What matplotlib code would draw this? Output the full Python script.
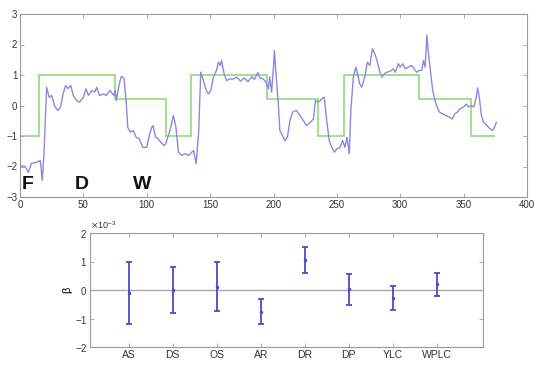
import numpy as np
import matplotlib
matplotlib.use("Agg")
import matplotlib.pyplot as plt
from matplotlib.ticker import ScalarFormatter

# ---------------- data ----------------
trace_x = [0.5, 4, 6.6, 9, 13, 16, 17.6, 19, 21, 23, 25, 27.6, 30, 32, 34, 36, 38, 40, 42, 44.7,
           47, 50, 52, 54, 56.6, 59, 60.5, 62.6, 66, 68, 71, 74, 75, 76, 77.6, 79, 80, 82, 83.7, 85,
           87, 89.5, 91.6, 94, 96.8, 100, 102, 104, 105, 107, 109, 111, 113.7, 115, 117, 119, 121, 123,
           125, 127.6, 130, 133, 135.5, 137, 139, 141, 142.6, 144.7, 147, 148.7, 150.5, 152.6, 155,
           156.6, 158, 159, 161, 163, 165.8, 168.4, 171, 174, 177, 180, 183, 185, 187.6, 189.3, 192,
           194, 196, 197, 198.5, 200, 200.7, 202, 203.8, 205, 207, 209, 211, 213, 215, 218, 221, 223.5,
           226, 229, 231.5, 233, 235, 237, 238, 240, 242, 244, 246, 248, 250, 252.5, 254.6, 256.4, 258,
           259.8, 261, 263, 265, 266, 268, 269.6, 272, 274, 276, 278, 280, 282, 284, 285.6, 287.5,
           289.3, 292, 294.5, 296, 298.5, 300, 302, 304, 306.4, 309, 311, 313, 315, 317, 318.3, 319.6,
           321, 322, 323.5, 325.6, 327.5, 329, 331, 333.5, 336, 338.7, 341, 343, 345, 347, 350, 352,
           354, 355.7, 358, 360, 361, 362.4, 364, 365.7, 368.3, 371, 373, 375, 375.8]
trace_y = [-1.97, -2.0, -2.19, -1.9, -1.86, -1.8, -2.45, -1.5, 0.6, 0.27, 0.33, -0.05, -0.16, -0.05,
           0.38, 0.66, 0.55, 0.66, 0.33, 0.16, 0.11, 0.27, 0.55, 0.33, 0.49, 0.44, 0.6, 0.33, 0.38,
           0.33, 0.49, 0.33, 0.49, 0.16, 0.55, 0.82, 0.95, 0.9, 0.16, -0.71, -0.87, -0.82, -1.04, -1.09,
           -1.37, -1.37, -0.98, -0.71, -0.66, -1.04, -1.09, -1.2, -1.31, -1.26, -0.98, -0.71, -0.33,
           -0.71, -1.53, -1.64, -1.58, -1.64, -1.53, -1.48, -1.91, -0.82, 1.09, 0.82, 0.49, 0.38, 0.49,
           0.93, 1.15, 1.42, 1.31, 1.48, 1.04, 0.82, 0.87, 0.87, 0.93, 0.8, 0.9, 0.78, 0.95, 0.85, 1.08,
           0.9, 0.87, 0.77, 0.55, 0.93, 0.44, 1.26, 1.8, 1.04, 0.05, -0.82, -0.98, -1.15, -1.04, -0.49,
           -0.22, -0.16, -0.33, -0.49, -0.66, -0.55, -0.44, 0.16, 0.11, 0.16, 0.22, 0.27, -0.49, -1.15,
           -1.37, -1.53, -1.42, -1.37, -1.15, -1.37, -1.04, -1.58, -0.16, 0.93, 1.26, 1.09, 0.71, 0.6,
           0.93, 1.42, 1.31, 1.86, 1.69, 1.42, 1.09, 0.93, 1.04, 1.09, 1.12, 1.2, 1.09, 1.37, 1.26,
           1.37, 1.2, 1.26, 1.31, 1.2, 1.09, 1.15, 1.15, 1.48, 1.26, 2.3, 1.8, 1.26, 0.49, 0.16, -0.05,
           -0.22, -0.27, -0.33, -0.38, -0.44, -0.27, -0.22, -0.11, -0.05, 0.05, -0.05, 0.0, -0.05, 0.27,
           0.58, 0.27, -0.33, -0.55, -0.66, -0.77, -0.82, -0.66, -0.55]

step_edges = [0, 15, 75, 115, 135, 195, 235, 256, 315, 356, 375]
step_levels = [-1, 1, 0.2, -1, 1, 0.2, -1, 1, 0.2, -1]

phase_labels = ["F", "D", "W"]
phase_x = [6, 49, 96]

categories = ["AS", "DS", "OS", "AR", "DR", "DP", "YLC", "WPLC"]
beta_mid = [-0.10e-3, 0.00e-3, 0.12e-3, -0.78e-3, 1.05e-3, 0.02e-3, -0.28e-3, 0.20e-3]
beta_low = [-1.20e-3, -0.80e-3, -0.75e-3, -1.20e-3, 0.60e-3, -0.52e-3, -0.70e-3, -0.22e-3]
beta_high = [1.00e-3, 0.82e-3, 1.00e-3, -0.32e-3, 1.52e-3, 0.57e-3, 0.15e-3, 0.60e-3]

# ---------------- figure ----------------
plt.rcParams['font.family'] = ['Liberation Sans', 'DejaVu Sans']
fig = plt.figure(figsize=(5.37, 3.69), dpi=100)

purple = '#8f86e0'
green = '#8cde7a'
spine_c = '#9a9a9a'

ax1 = fig.add_axes([20/537, 1-197/369, 507/537, 183/369])
ax1.plot(trace_x, trace_y, color=purple, lw=1.0)
ax1.stairs(step_levels, step_edges, color=green, lw=1.2, baseline=None)
ax1.set_xlim(0, 400)
ax1.set_ylim(-3, 3)
ax1.set_xticks(range(0, 401, 50))
ax1.set_yticks(range(-3, 4))
for lab, xx in zip(phase_labels, phase_x):
    ax1.text(xx, -2.6, lab, fontsize=14, fontweight='bold', ha='center', va='center', color='#111111')

ax2 = fig.add_axes([90/537, 1-347/369, 393/537, 114/369])
pos = np.arange(1, len(categories) + 1)
mid = np.array(beta_mid)
err = np.vstack([mid - np.array(beta_low), np.array(beta_high) - mid])
ax2.axhline(0, color='#a8a8a8', lw=1.0)
ax2.errorbar(pos, mid, yerr=err, fmt='.', ms=3, color='#4b4bc8', ecolor='#4b4bc8',
             elinewidth=1.3, capsize=2.5, capthick=1.3)
ax2.set_xlim(0.12, 9.05)
ax2.set_ylim(-2e-3, 2e-3)
ax2.set_yticks([-2e-3, -1e-3, 0, 1e-3, 2e-3])
ax2.set_xticks(pos)
ax2.set_xticklabels(categories)
fmt = ScalarFormatter(useMathText=True)
fmt.set_powerlimits((-2, 2))
ax2.yaxis.set_major_formatter(fmt)
ax2.yaxis.get_offset_text().set_fontsize(6.5)
ax2.set_ylabel('β', fontsize=8, labelpad=2)

for ax in (ax1, ax2):
    for s in ax.spines.values():
        s.set_color(spine_c)
        s.set_linewidth(0.8)
    ax.tick_params(direction='in', length=3, width=0.6, color=spine_c, top=True, right=True,
                   labelsize=7, labelcolor='#333333', pad=2)
ax2.tick_params(axis='x', labelsize=7.5)

fig.savefig('out.png', dpi=100)
